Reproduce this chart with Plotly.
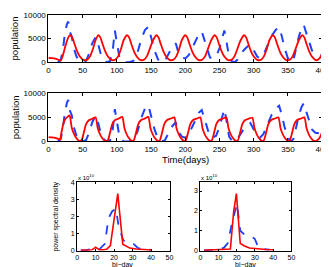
import plotly.graph_objects as go

# ---------------- data ----------------
red1_days = [0, 5, 10, 15, 18, 21, 24, 27, 30, 32,
             35, 38, 42, 46, 50, 53, 57, 61, 65, 69, 73,
             76, 79, 83, 87, 91, 94, 98, 102, 106, 110, 115,
             118, 121, 125, 129, 133, 136, 140, 144, 148, 153, 158,
             161, 164, 168, 172, 176, 179, 183, 187, 191, 195, 200,
             203, 206, 210, 214, 218, 221, 225, 229, 233, 238, 243,
             246, 249, 253, 257, 261, 264, 268, 272, 276, 281, 286,
             289, 292, 296, 300, 304, 307, 311, 315, 319, 323, 328,
             331, 334, 338, 342, 346, 349, 353, 357, 361, 366, 371,
             374, 377, 381, 385, 389, 392, 396, 400]
red1_vals = [900, 880, 780, 500, 350, 1400, 3000, 4500, 5500, 5700,
             5200, 3900, 2300, 1200, 600, 420, 600, 1300, 2800, 4700, 5700,
             5200, 3900, 2300, 1200, 600, 420, 600, 1300, 2800, 4700, 5700,
             5200, 3900, 2300, 1200, 600, 420, 600, 1300, 2800, 4700, 5700,
             5200, 3900, 2300, 1200, 600, 420, 600, 1300, 2800, 4700, 5700,
             5200, 3900, 2300, 1200, 600, 420, 600, 1300, 2800, 4700, 5700,
             5200, 3900, 2300, 1200, 600, 420, 600, 1300, 2800, 4700, 5700,
             5200, 3900, 2300, 1200, 600, 420, 600, 1300, 2800, 4700, 5700,
             5200, 3900, 2300, 1200, 600, 420, 600, 1300, 2800, 4700, 5700,
             5200, 3900, 2300, 1200, 600, 420, 800, 1900]

red2_days = [0, 5, 10, 15, 17, 19, 22, 25, 28, 31,
             34, 37, 40, 43, 46, 49, 52, 55, 59, 64, 69,
             72, 75, 78, 81, 84, 87, 90, 93, 97, 102, 108,
             111, 114, 117, 120, 123, 125, 128, 131, 135, 140, 146,
             149, 152, 155, 158, 161, 163, 166, 169, 173, 178, 184,
             187, 190, 193, 196, 199, 201, 204, 207, 211, 216, 222,
             225, 228, 231, 234, 237, 239, 242, 245, 249, 254, 260,
             263, 266, 269, 272, 275, 277, 280, 283, 287, 292, 298,
             301, 304, 307, 310, 313, 315, 318, 321, 325, 330, 336,
             339, 342, 345, 348, 351, 353, 356, 359, 363, 368, 374,
             377, 380, 383, 386, 389, 392, 396, 400]
red2_vals = [900, 850, 750, 500, 350, 1800, 3800, 4700, 5100, 5400,
             2900, 1700, 900, 350, 80, 400, 2000, 3600, 4400, 4700, 5000,
             2800, 1600, 800, 300, 60, 300, 1800, 3500, 4400, 4700, 5100,
             2800, 1600, 800, 300, 60, 300, 1800, 3500, 4400, 4700, 5100,
             2800, 1600, 800, 300, 60, 300, 1800, 3500, 4400, 4700, 5000,
             2800, 1600, 800, 300, 60, 300, 1800, 3500, 4400, 4700, 5000,
             2800, 1600, 800, 300, 60, 300, 1800, 3500, 4400, 4700, 5000,
             2800, 1600, 800, 300, 60, 300, 1800, 3500, 4400, 4700, 4900,
             2800, 1600, 800, 300, 60, 300, 1800, 3500, 4400, 4700, 5000,
             2800, 1600, 800, 300, 60, 300, 1800, 3500, 4400, 4700, 5000,
             2800, 1600, 800, 300, 60, 200, 700, 2000]

obs_days = [14, 18, 21, 24, 27, 29, 31, 34, 37, 41, 45, 50, 55, 60, 64, 69, 72, 76, 80, 85,
            90, 94, 97, 100, 104, 110, 118, 124, 130, 136, 141, 146, 150, 155, 160, 165,
            170, 175, 180, 186, 190, 195, 200, 205, 210, 215, 220, 224, 228, 232, 236, 240,
            245, 250, 254, 257, 260, 264, 268, 272, 276, 280, 285, 290, 295, 300, 305, 309,
            314, 320, 326, 332, 337, 341, 345, 350, 354, 358, 362, 366, 370, 373, 376, 380,
            385, 390, 400]
obs_vals = [0, 500, 2500, 6000, 8000, 8600, 6500, 5500, 3000, 1200, 200, 0, 300, 2000, 4000, 5300, 4200, 2000, 600, 0,
            200, 2500, 6700, 3800, 800, 0, 0, 300, 2000, 5000, 6800, 7500, 5500, 2500, 600, 0,
            200, 1500, 3000, 4000, 2000, 1000, 800, 1500, 3000, 4500, 6000, 6500, 4500, 2500, 1000, 800,
            1200, 3000, 5500, 6700, 4500, 1000, 200, 0, 500, 1500, 2500, 3200, 3800, 2500, 1200, 800,
            1500, 3500, 5500, 6800, 7400, 5500, 3000, 800, 0, 500, 3000, 5500, 7200, 7900, 6500, 4500,
            2500, 1800, 1600]

psdL_red_x = [2, 4, 6, 8, 10, 12, 14, 16, 18, 22, 24.7, 28.5, 32, 36, 40]
psdL_red = [0.02, 0.02, 0.03, 0.05, 0.2, 0.05, 0.05, 0.08, 0.3, 3.33, 0.37, 0.15, 0.1, 0.07, 0.04]
psdL_obs_x = [2, 5, 8, 10, 12, 15, 17, 19, 21, 22.5, 25, 28, 30.5, 33, 36, 40]
psdL_obs = [0.02, 0.03, 0.1, 0.12, 0.08, 0.4, 1.9, 2.3, 2.45, 1.4, 0.6, 0.45, 0.4, 0.15, 0.07, 0.05]

psdR_red_x = [2, 6, 10, 14, 16.5, 18.3, 19.8, 21.9, 24, 27, 32, 36, 40]
psdR_red = [0.02, 0.03, 0.03, 0.05, 0.08, 1.97, 2.87, 0.37, 0.25, 0.13, 0.08, 0.06, 0.05]
psdR_obs_x = [2, 6, 10, 13, 15, 17.4, 19.2, 20.1, 21.9, 23.7, 27.2, 29.9, 31.7, 34.3, 38]
psdR_obs = [0.02, 0.03, 0.05, 0.15, 0.37, 1.4, 2.13, 2.35, 1.0, 0.85, 0.75, 0.6, 0.2, 0.08, 0.05]

time_ticks = [0, 50, 100, 150, 200, 250, 300, 350, 400]
pop_ticks = [0, 5000, 10000]
psd_xticks = [0, 10, 20, 30, 40, 50]
psdL_yticks = [0, 1, 2, 3, 4]
psdR_yticks = [0, 1, 2, 3]

# ---------------- figure ----------------
W, H = 329, 267
FONT = "Liberation Sans, Arial, Helvetica, sans-serif"
RED = "#ff0000"
BLUE = "#2040ff"


def dx(p):
    return p / W


def dy(p):
    return 1 - p / H


fig = go.Figure()

# top panel
fig.add_trace(go.Scatter(x=obs_days, y=obs_vals, mode="lines", xaxis="x", yaxis="y",
                         line=dict(color=BLUE, width=2, dash="dash")))
fig.add_trace(go.Scatter(x=red1_days, y=red1_vals, mode="lines", xaxis="x", yaxis="y",
                         line=dict(color=RED, width=1.8, shape="spline", smoothing=0.6)))
# second panel
fig.add_trace(go.Scatter(x=obs_days, y=obs_vals, mode="lines", xaxis="x2", yaxis="y2",
                         line=dict(color=BLUE, width=2, dash="dash")))
fig.add_trace(go.Scatter(x=red2_days, y=red2_vals, mode="lines", xaxis="x2", yaxis="y2",
                         line=dict(color=RED, width=1.8, shape="spline", smoothing=0.5)))
# psd left
fig.add_trace(go.Scatter(x=psdL_obs_x, y=psdL_obs, mode="lines", xaxis="x3", yaxis="y3",
                         line=dict(color=BLUE, width=1.8, dash="dash")))
fig.add_trace(go.Scatter(x=psdL_red_x, y=psdL_red, mode="lines", xaxis="x3", yaxis="y3",
                         line=dict(color=RED, width=1.6)))
# psd right
fig.add_trace(go.Scatter(x=psdR_obs_x, y=psdR_obs, mode="lines", xaxis="x4", yaxis="y4",
                         line=dict(color=BLUE, width=1.8, dash="dash")))
fig.add_trace(go.Scatter(x=psdR_red_x, y=psdR_red, mode="lines", xaxis="x4", yaxis="y4",
                         line=dict(color=RED, width=1.6)))

axis_common = dict(showline=True, linecolor="black", linewidth=1, mirror="ticks",
                   ticks="inside", ticklen=3, tickcolor="black", showgrid=False,
                   zeroline=False, fixedrange=True)
big = dict(axis_common, tickfont=dict(family=FONT, size=8, color="black"))
small = dict(axis_common, ticklen=2, tickfont=dict(family=FONT, size=7, color="black"))

top_x = [dx(39.5), dx(321)]
fig.update_layout(
    xaxis=dict(big, domain=top_x, range=[0, 400], tickvals=time_ticks,
               ticktext=[str(t) for t in time_ticks], anchor="y"),
    yaxis=dict(big, domain=[dy(52), dy(3)], range=[0, 10000], tickvals=pop_ticks,
               ticktext=[str(t) for t in pop_ticks], anchor="x"),
    xaxis2=dict(big, domain=top_x, range=[0, 400], tickvals=time_ticks,
                ticktext=[str(t) for t in time_ticks], anchor="y2"),
    yaxis2=dict(big, domain=[dy(134), dy(84)], range=[0, 10000], tickvals=pop_ticks,
                ticktext=[str(t) for t in pop_ticks], anchor="x2"),
    xaxis3=dict(small, domain=[dx(69), dx(164)], range=[0, 50], tickvals=psd_xticks,
                ticktext=[str(t) for t in psd_xticks], anchor="y3"),
    yaxis3=dict(small, domain=[dy(247), dy(176)], range=[0, 4], tickvals=psdL_yticks,
                ticktext=[str(t) for t in psdL_yticks], anchor="x3"),
    xaxis4=dict(small, domain=[dx(195.7), dx(289.3)], range=[0, 50], tickvals=psd_xticks,
                ticktext=[str(t) for t in psd_xticks], anchor="y4"),
    yaxis4=dict(small, domain=[dy(247), dy(176)], range=[0, 3.45], tickvals=psdR_yticks,
                ticktext=[str(t) for t in psdR_yticks], anchor="x4"),
    width=W, height=H,
    margin=dict(l=0, r=0, t=0, b=0),
    paper_bgcolor="white", plot_bgcolor="white",
    showlegend=False,
    font=dict(family=FONT, color="black"),
)

ann = []


def label(text, x, y, size, angle=0, xanchor="center", yanchor="middle"):
    ann.append(dict(text=text, x=dx(x), y=dy(y), xref="paper", yref="paper",
                    showarrow=False, textangle=angle, xanchor=xanchor, yanchor=yanchor,
                    font=dict(family=FONT, size=size, color="black")))


label("population", 5, 27.5, 9.5, angle=-90)
label("population", 5, 109, 9.5, angle=-90)
label("Time(days)", 180, 153, 9.5)
label("power spectral density", 47, 212, 7, angle=-90)
label("bi\u2212day", 116, 261.5, 7)
label("bi\u2212day", 242, 261.5, 7)
label("x 10<sup>10</sup>", 68, 171, 6, xanchor="left")
label("x 10<sup>10</sup>", 194, 171, 6, xanchor="left")
fig.update_layout(annotations=ann)

fig.write_html("out.html")
